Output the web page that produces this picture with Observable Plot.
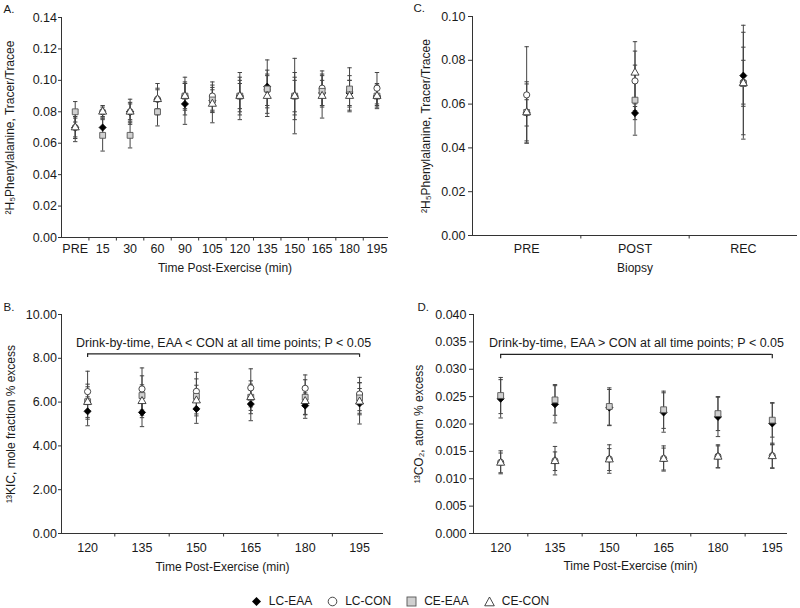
<!DOCTYPE html>
<html><head><meta charset="utf-8">
<script src="https://cdn.jsdelivr.net/npm/d3@7"></script>
<script src="https://cdn.jsdelivr.net/npm/@observablehq/plot@0.6"></script>
<style>
body{margin:0;background:#fff;font-family:"Liberation Sans",Arial,sans-serif;color:#1a1a1a;}
#root{position:relative;width:800px;height:608px;overflow:hidden;}
.panel{position:absolute;width:400px;height:290px;}
#legend{position:absolute;left:0;top:592px;width:800px;height:18px;display:flex;justify-content:center;align-items:center;gap:15px;font-size:12px;}
#legend .item{display:flex;align-items:center;gap:7px;}
#legend svg{display:block;}
</style></head><body><div id="root"></div><script>
const series = ["LC-EAA", "LC-CON", "CE-EAA", "CE-CON"];

// ---- Panel A: 2H5-phenylalanine enrichment over time
const timesA = ["PRE","15","30","60","90","105","120","135","150","165","180","195"];
const A_LC_EAA    = [0.070,0.070,0.080,0.088,0.085,0.087,0.090,0.096,0.090,0.092,0.092,0.090];
const A_LC_EAA_sd = [0.006,0.006,0.006,0.006,0.013,0.007,0.008,0.017,0.010,0.008,0.008,0.006];
const A_LC_CON    = [0.070,0.080,0.080,0.088,0.090,0.090,0.090,0.094,0.090,0.095,0.093,0.095];
const A_LC_CON_sd = [0.007,0.004,0.008,0.010,0.012,0.009,0.015,0.010,0.024,0.011,0.010,0.010];
const A_CE_EAA    = [0.080,0.065,0.065,0.080,0.090,0.0875,0.090,0.0945,0.090,0.093,0.0945,0.090];
const A_CE_EAA_sd = [0.0065,0.010,0.008,0.009,0.009,0.008,0.012,0.012,0.015,0.010,0.0135,0.007];
const A_CE_CON    = [0.070,0.080,0.080,0.088,0.090,0.085,0.090,0.090,0.090,0.090,0.090,0.090];
const A_CE_CON_sd = [0.009,0.003,0.005,0.007,0.008,0.012,0.010,0.013,0.012,0.014,0.010,0.008];

// ---- Panel B: 13C-KIC enrichment
const timesB = ["120","135","150","165","180","195"];
const B_LC_EAA    = [5.58,5.53,5.69,5.91,5.84,5.94];
const B_LC_EAA_sd = [0.66,0.65,0.66,0.76,0.58,0.94];
const B_LC_CON    = [6.48,6.60,6.49,6.65,6.63,6.37];
const B_LC_CON_sd = [0.93,0.96,0.87,0.87,0.61,0.76];
const B_CE_EAA    = [6.02,6.30,6.26,6.22,6.22,6.19];
const B_CE_EAA_sd = [0.80,0.90,0.80,0.75,0.80,0.70];
const B_CE_CON    = [6.00,6.04,6.07,6.22,6.04,6.02];
const B_CE_CON_sd = [0.70,0.75,0.70,0.60,0.60,0.60];

// ---- Panel C: muscle biopsy 2H5-phenylalanine enrichment
const biopsyC = ["PRE","POST","REC"];
const C_LC_EAA    = [0.0560,0.0559,0.0730];
const C_LC_EAA_sd = [0.0060,0.0030,0.0130];
const C_LC_CON    = [0.0642,0.0706,0.0700];
const C_LC_CON_sd = [0.0220,0.0136,0.0260];
const C_CE_EAA    = [0.0562,0.0618,0.0694];
const C_CE_EAA_sd = [0.0140,0.0160,0.0234];
const C_CE_CON    = [0.0562,0.0743,0.0695];
const C_CE_CON_sd = [0.0130,0.0142,0.0105];

// ---- Panel D: breath 13CO2 enrichment
const timesD = ["120","135","150","165","180","195"];
const D_LC_EAA    = [0.0246,0.0236,0.0230,0.0221,0.0213,0.0201];
const D_LC_EAA_sd = [0.0035,0.0034,0.0033,0.0036,0.0036,0.0038];
const D_LC_CON    = [0.0130,0.0133,0.0136,0.0137,0.0141,0.0142];
const D_LC_CON_sd = [0.0021,0.0026,0.0026,0.0023,0.0021,0.0023];
const D_CE_EAA    = [0.0252,0.0244,0.0232,0.0226,0.0219,0.0207];
const D_CE_EAA_sd = [0.0033,0.0028,0.0034,0.0034,0.0031,0.0031];
const D_CE_CON    = [0.0129,0.0132,0.0135,0.0136,0.0140,0.0141];
const D_CE_CON_sd = [0.0018,0.0017,0.0020,0.0020,0.0020,0.0021];

// annotation brackets
const bracketB = [{x1: 0, x2: 5, y: 8.2, yEnd: 8.04, label: "Drink-by-time, EAA < CON at all time points; P < 0.05"}];
const bracketD = [{x1: 0, x2: 5, y: 0.0327, yEnd: 0.0319, label: "Drink-by-time, EAA > CON at all time points; P < 0.05"}];

const styles = {
  "LC-EAA": {symbol: "diamond2", r: 3.2, fill: "#000", stroke: "#000", strokeWidth: 0.8},
  "LC-CON": {symbol: "circle", r: 3.1, fill: "#fff", stroke: "#333", strokeWidth: 0.9},
  "CE-EAA": {symbol: "square", r: 3.3, fill: "#d0d0d0", stroke: "#555", strokeWidth: 0.9},
  "CE-CON": {symbol: "triangle", r: 3.0, fill: "#fff", stroke: "#333", strokeWidth: 0.9}
};

const capSymbol = {draw(ctx, size) { const w = Math.sqrt(size / Math.PI); ctx.moveTo(-w, 0); ctx.lineTo(w, 0); }};

function rows(cats, means, sds) {
  const out = [];
  series.forEach((s, k) => cats.forEach((c, i) => {
    out.push({i, cat: c, series: s, mean: means[k][i], lo: means[k][i] - sds[k][i], hi: means[k][i] + sds[k][i]});
  }));
  return out;
}

function panel(cfg) {
  const data = rows(cfg.cats, cfg.means, cfg.sds);
  const n = cfg.cats.length;
  const H = 290;
  const marks = [
    Plot.ruleY([0], {stroke: "#333"}),
    Plot.ruleX([cfg.xDomain[0]], {stroke: "#333"}),
    Plot.axisY({ticks: cfg.yTicks, tickFormat: d3.format(cfg.yFormat), tickSize: cfg.yTickSize, tickPadding: cfg.yTickPad, fontSize: 12.5, label: null, stroke: "#333", fill: "#1a1a1a"}),
    Plot.axisX({ticks: d3.range(n), tickFormat: (i) => cfg.cats[i], tickSize: 0, tickPadding: cfg.xPad, fontSize: 12.5, label: null, fill: "#1a1a1a"}),
    Plot.axisX({ticks: d3.range(n - 1).map((i) => i + 0.5), tickFormat: () => "", tickSize: 3.5, label: null, stroke: "#333", fill: "none"}),
    Plot.ruleX(data, {x: "i", y1: "lo", y2: "hi", stroke: "#444", strokeWidth: 1}),
    Plot.dot(data, {x: "i", y: "lo", symbol: capSymbol, r: 2.2, stroke: "#444", fill: "none", strokeWidth: 1}),
    Plot.dot(data, {x: "i", y: "hi", symbol: capSymbol, r: 2.2, stroke: "#444", fill: "none", strokeWidth: 1}),
    ...series.map((s) => Plot.dot(data.filter((d) => d.series === s), {x: "i", y: "mean", ...styles[s]})),
    Plot.text([cfg.yLabel], {frameAnchor: "left", textAnchor: "middle", lineAnchor: "middle", rotate: -90, dx: cfg.yLabelX - cfg.marginLeft, fontSize: 12, fill: "#1a1a1a"}),
    Plot.text([cfg.xLabel], {frameAnchor: "bottom", textAnchor: "middle", lineAnchor: "middle", dy: cfg.xTitleDy, fontSize: 12, fill: "#1a1a1a"}),
    Plot.text([cfg.letter], {frameAnchor: "top-left", dx: cfg.letterX - cfg.marginLeft, dy: cfg.letterY - cfg.marginTop, textAnchor: "start", lineAnchor: "top", fontSize: 11.5, fill: "#1a1a1a"})
  ];
  if (cfg.bracket) {
    marks.push(
      Plot.ruleY(cfg.bracket, {x1: "x1", x2: "x2", y: "y", stroke: "#222", strokeWidth: 1.2}),
      Plot.ruleX(cfg.bracket, {x: "x1", y1: "y", y2: "yEnd", stroke: "#222", strokeWidth: 1.2}),
      Plot.ruleX(cfg.bracket, {x: "x2", y1: "y", y2: "yEnd", stroke: "#222", strokeWidth: 1.2}),
      Plot.text(cfg.bracket, {x: (d) => (d.x1 + d.x2) / 2, y: "y", text: "label", dy: -11, fontSize: 12.5, fill: "#1a1a1a"})
    );
  }
  const svg = Plot.plot({
    width: 400, height: H,
    marginLeft: cfg.marginLeft, marginRight: cfg.marginRight,
    marginTop: cfg.marginTop, marginBottom: cfg.marginBottom,
    style: {fontFamily: "'Liberation Sans', Arial, sans-serif", fontSize: "12.5px", color: "#1a1a1a", background: "transparent", overflow: "visible"},
    x: {type: "linear", domain: cfg.xDomain, axis: null},
    y: {domain: cfg.yDomain, axis: null},
    marks
  });
  const div = document.createElement("div");
  div.className = "panel";
  div.style.left = cfg.left + "px";
  div.style.top = cfg.top + "px";
  div.appendChild(svg);
  document.getElementById("root").appendChild(div);
}

panel({letter: "A.", left: 0, top: 0, cats: timesA,
  means: [A_LC_EAA, A_LC_CON, A_CE_EAA, A_CE_CON], sds: [A_LC_EAA_sd, A_LC_CON_sd, A_CE_EAA_sd, A_CE_CON_sd],
  xDomain: [-0.5, 11.42], yDomain: [0, 0.14], yTicks: d3.range(0, 0.141, 0.02), yFormat: ".2f",
  marginLeft: 61, marginRight: 12, marginTop: 17, marginBottom: 53,
  yTickSize: 3, yTickPad: 1.5, xPad: 6.5, xTitleDy: 31,
  yLabel: "²H₅Phenylalanine, Tracer/Tracee", yLabelX: 10, xLabel: "Time Post-Exercise (min)", letterX: 3, letterY: 4});

panel({letter: "C.", left: 400, top: 0, cats: biopsyC,
  means: [C_LC_EAA, C_LC_CON, C_CE_EAA, C_CE_CON], sds: [C_LC_EAA_sd, C_LC_CON_sd, C_CE_EAA_sd, C_CE_CON_sd],
  xDomain: [-0.5, 2.5], yDomain: [0, 0.10], yTicks: d3.range(0, 0.101, 0.02), yFormat: ".2f",
  marginLeft: 72, marginRight: 3, marginTop: 16, marginBottom: 55,
  yTickSize: 4, yTickPad: 3, xPad: 8.5, xTitleDy: 33,
  yLabel: "²H₅Phenylalanine, Tracer/Tracee", yLabelX: 26, xLabel: "Biopsy", letterX: 13, letterY: 3});

panel({letter: "B.", left: 0, top: 290, cats: timesB,
  means: [B_LC_EAA, B_LC_CON, B_CE_EAA, B_CE_CON], sds: [B_LC_EAA_sd, B_LC_CON_sd, B_CE_EAA_sd, B_CE_CON_sd],
  xDomain: [-0.48, 5.44], yDomain: [0, 10], yTicks: d3.range(0, 10.1, 2), yFormat: ".2f",
  marginLeft: 61, marginRight: 17, marginTop: 24, marginBottom: 47,
  yTickSize: 3, yTickPad: 1.5, xPad: 9.5, xTitleDy: 34,
  yLabel: "¹³KIC, mole fraction % excess", yLabelX: 11, xLabel: "Time Post-Exercise (min)", letterX: 3, letterY: 12,
  bracket: bracketB});

panel({letter: "D.", left: 400, top: 290, cats: timesD,
  means: [D_LC_EAA, D_LC_CON, D_CE_EAA, D_CE_CON], sds: [D_LC_EAA_sd, D_LC_CON_sd, D_CE_EAA_sd, D_CE_CON_sd],
  xDomain: [-0.5, 5.28], yDomain: [0, 0.04], yTicks: d3.range(0, 0.0401, 0.005), yFormat: ".3f",
  marginLeft: 73, marginRight: 13, marginTop: 24, marginBottom: 47,
  yTickSize: 4, yTickPad: 3, xPad: 9.5, xTitleDy: 33,
  yLabel: "¹³CO₂, atom % excess", yLabelX: 19, xLabel: "Time Post-Exercise (min)", letterX: 17, letterY: 12,
  bracket: bracketD});

// legend
const legendIcons = {
  "LC-EAA": '<polygon points="5.5,1 10,5.5 5.5,10 1,5.5" fill="#000"/>',
  "LC-CON": '<circle cx="5.5" cy="5.5" r="4.3" fill="#fff" stroke="#333" stroke-width="0.9"/>',
  "CE-EAA": '<rect x="1" y="1" width="9" height="9" fill="#d0d0d0" stroke="#555" stroke-width="0.9"/>',
  "CE-CON": '<polygon points="5.5,1 10.3,9.8 0.7,9.8" fill="#fff" stroke="#333" stroke-width="0.9"/>'
};
const legend = document.createElement("div");
legend.id = "legend";
legend.innerHTML = series.map((s) => `<div class="item"><svg width="11" height="11" viewBox="0 0 11 11">${legendIcons[s]}</svg><span>${s}</span></div>`).join("");
document.getElementById("root").appendChild(legend);
</script></body></html>
